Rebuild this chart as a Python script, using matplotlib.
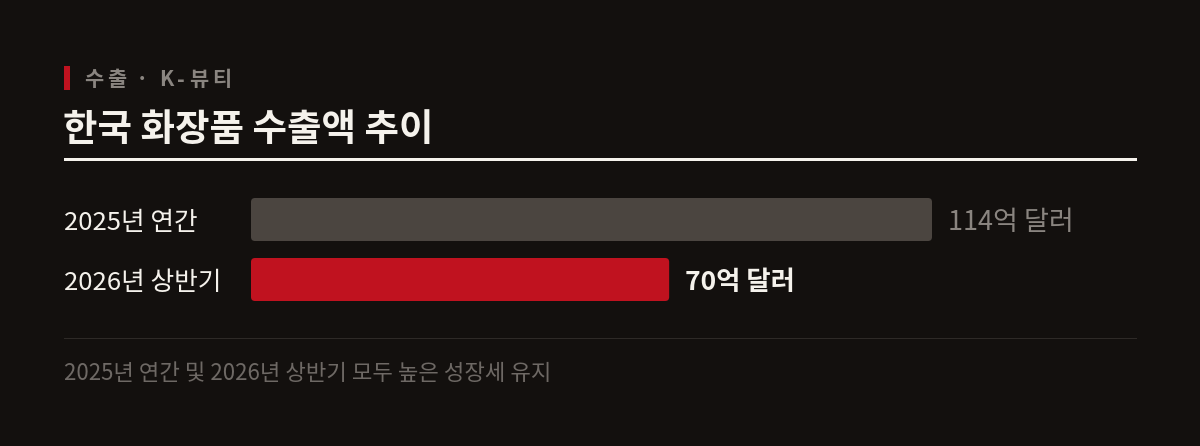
import matplotlib
matplotlib.use('Agg')
import matplotlib.pyplot as plt
from matplotlib.patches import FancyBboxPatch, Rectangle
from matplotlib.transforms import blended_transform_factory, offset_copy

plt.rcParams['font.family'] = ['Noto Sans CJK KR', 'DejaVu Sans']

# data
categories = ['2025년 연간', '2026년 상반기']
values = [114, 70]
value_labels = ['114억 달러', '70억 달러']
kicker = '수출 · K-뷰티'
title = '한국 화장품 수출액 추이'
note = '2025년 연간 및 2026년 상반기 모두 높은 성장세 유지'

BG = '#13100e'
BAR_COLORS = ['#4b4540', '#c0121f']
LABEL_COLORS = ['#8a8580', '#f5f2ec']
LABEL_WEIGHTS = ['normal', 'bold']

W, H = 1200, 446
fig = plt.figure(figsize=(W / 100, H / 100), dpi=100, facecolor=BG)


def fx(px):
    return px / W


def fy(py):
    return 1 - py / H


# header
fig.patches.append(Rectangle((fx(64), fy(90)), fx(6), 24 / H, transform=fig.transFigure,
                             facecolor='#c0121f', edgecolor='none'))

# kicker with letter spacing, one glyph at a time
renderer = fig.canvas.get_renderer()
x = 84
for ch in kicker:
    if ch == ' ':
        x += 6
        continue
    t = fig.text(fx(x), fy(80), ch, color='#8a8580', fontsize=15, fontweight='bold',
                 va='center', ha='left')
    x += t.get_window_extent(renderer).width + 4

fig.text(fx(63), fy(130), title, color='#f5f2ec', fontsize=27, fontweight='bold',
         va='center', ha='left')
fig.patches.append(Rectangle((fx(64), fy(161)), fx(1137 - 64), 3 / H, transform=fig.transFigure,
                             facecolor='#f5f2ec', edgecolor='none'))

# bars: axes spans bar area, x in value units, y in pixels
left, right = 251, 932
top, bottom = 198, 301
ax = fig.add_axes([fx(left), fy(bottom), fx(right - left), (bottom - top) / H])
ax.set_facecolor('none')
ax.set_xlim(0, max(values))
ax.set_ylim(bottom - top, 0)
ax.axis('off')

px_per_unit = (right - left) / max(values)
bar_h = 43
gap = 60
radius_px = 4
tr = blended_transform_factory(fig.transFigure, ax.transData)
for i, (cat, v) in enumerate(zip(categories, values)):
    y0 = i * gap
    rs = radius_px / px_per_unit
    patch = FancyBboxPatch((0, y0), v, bar_h,
                           boxstyle='round,pad=0,rounding_size={0}'.format(rs),
                           mutation_aspect=px_per_unit,
                           facecolor=BAR_COLORS[i], edgecolor='none')
    ax.add_patch(patch)
    yc = y0 + bar_h / 2 + 3
    ax.text(fx(64), yc, cat, transform=tr, color='#f5f2ec', fontsize=18.5,
            va='center', ha='left')
    ax.annotate(value_labels[i], xy=(v, yc), xytext=(11.5, 0), textcoords='offset points',
                color=LABEL_COLORS[i], fontsize=19.5 if i == 0 else 19,
                fontweight=LABEL_WEIGHTS[i], va='center', ha='left')

# separator and note
fig.patches.append(Rectangle((fx(64), fy(339)), fx(1137 - 64), 1 / H, transform=fig.transFigure,
                             facecolor='#2e2a27', edgecolor='none'))
fig.text(fx(64), fy(374), note, color='#6e6965', fontsize=16, va='center', ha='left')

fig.savefig('out.png', dpi=100, facecolor=BG)
